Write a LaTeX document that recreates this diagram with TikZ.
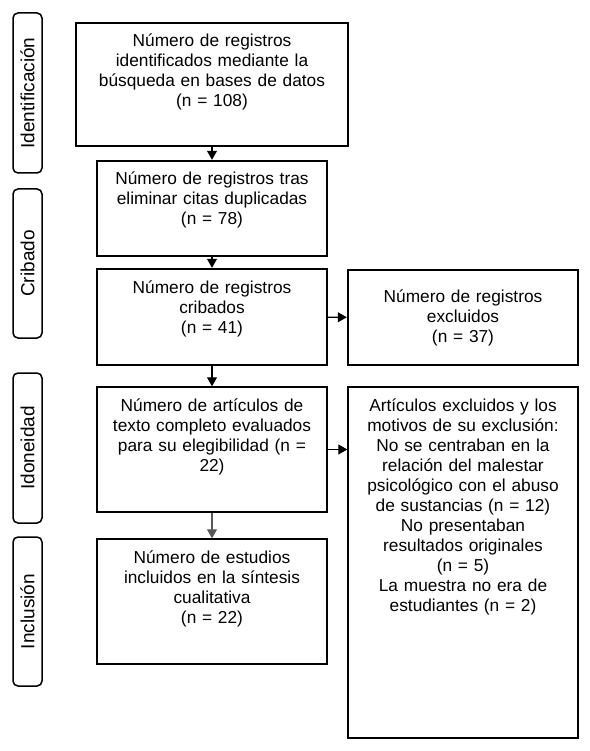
\documentclass[tikz,border=0pt]{standalone}
\usepackage{fontspec}
\setmainfont{Liberation Sans}
\usepackage{tikz}
\usetikzlibrary{positioning,arrows.meta}
\tikzset{
  rb/.style={draw=black, line width=#1, text=black, align=center,
    inner xsep=0pt, inner ysep=0pt, text width=222pt}}
\begin{document}
\begin{tikzpicture}[x=1pt, y=-1pt, font=\fontsize{17.3}{20}\selectfont,
      phase/.style={draw=black, line width=1.5pt, rounded corners=5pt, rotate=90,
        minimum height=29pt, inner sep=0pt, font=\fontsize{19}{22}\selectfont},
      topb/.style={text height=24pt},
      flow/.style={-{Triangle[length=9pt, width=10pt]}, line width=1.1pt, black}]
      \useasboundingbox (0,0) rectangle (589,751);
      \node[phase, minimum width=160pt] (lid) at (27.5, 93) {Identificación};
      \node[phase, minimum width=149pt] (lcr) at (27.5, 263.5) {Cribado};
      \node[phase, minimum width=150pt] (lido) at (27.5, 448) {Idoneidad};
      \node[phase, minimum width=149pt] (linc) at (27.5, 611.5) {Inclusión};
      \node[rb=2.4pt, topb, text depth=99pt, minimum width=272pt, text width=262pt] (ident) at (212, 84.5)
        {Número de registros\\ identificados mediante la\\ búsqueda en bases de datos\\ (n = 108)};
      \node[rb=2.4pt, topb, text depth=71pt, minimum width=230pt] (dup) at (212, 208.5)
        {Número de registros tras\\ eliminar citas duplicadas\\ (n = 78)};
      \node[rb=2.4pt, topb, text depth=72pt, minimum width=230pt] (crib) at (212, 317)
        {Número de registros\\ cribados\\ (n = 41)};
      \node[rb=2.4pt, minimum width=230pt, minimum height=95pt] (excl) at (463, 317.5)
        {Número de registros\\ excluidos\\ (n = 37)};
      \node[rb=1.4pt, topb, text depth=101pt, minimum width=230pt] (elig) at (212, 449.5)
        {Número de artículos de\\ texto completo evaluados\\ para su elegibilidad (n =\\ 22)};
      \node[rb=1.4pt, topb, text depth=327pt, minimum width=230pt] (motiv) at (463, 562.5)
        {Artículos excluidos y los\\ motivos de su exclusión:\\ No se centraban en la\\ relación del malestar\\
         psicológico con el abuso\\ de sustancias (n = 12)\\ No presentaban\\ resultados originales\\ (n = 5)\\
         La muestra no era de\\ estudiantes (n = 2)};
      \node[rb=1.4pt, topb, text depth=101pt, minimum width=230pt] (incl) at (212, 601.5)
        {Número de estudios\\ incluidos en la síntesis\\ cualitativa\\ (n = 22)};
      \draw[flow] (ident) -- (dup);
      \draw[flow] (dup) -- (crib);
      \draw[flow] (crib) -- (excl);
      \draw[flow] (crib) -- (elig);
      \draw[flow] (elig.east) -- (elig.east -| motiv.west);
      \draw[flow, black!65] (elig) -- (incl);
    \end{tikzpicture}
\end{document}
